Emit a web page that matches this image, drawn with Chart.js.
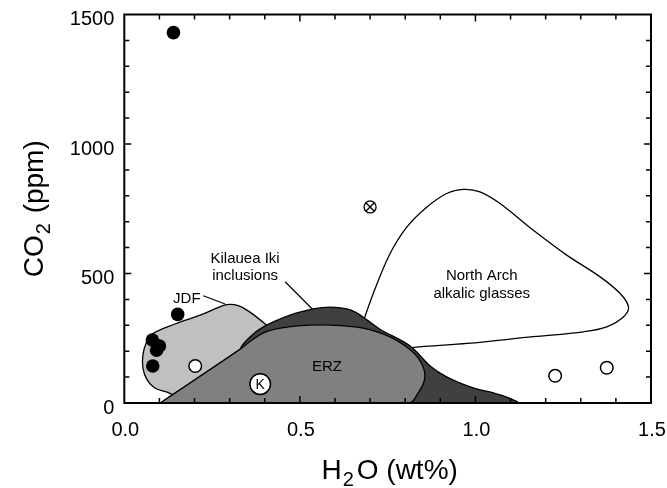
<!DOCTYPE html>
<html>
<head>
<meta charset="utf-8">
<script src="https://cdn.jsdelivr.net/npm/chart.js@4/dist/chart.umd.min.js"></script>
<style>
html,body{margin:0;padding:0;background:#fff;}
#wrap{width:667px;height:488px;position:relative;}
</style>
</head>
<body>
<div id="wrap"><canvas id="c" width="667" height="488"></canvas></div>
<script>
// ---- data (H2O wt%, CO2 ppm) ----
const filledX = [0.14, 0.152, 0.08, 0.092, 0.10, 0.081];
const filledY = [1430, 342, 243, 204, 220, 143];
const openX = [0.202, 1.227, 1.374];
const openY = [143, 105, 136];
const kX = [0.387];
const kY = [73];
const crossX = [0.70];
const crossY = [757];

const jdfX = [0.216, 0.153, 0.122, 0.087, 0.065, 0.053, 0.053, 0.062, 0.079, 0.144, 0.216, 0.270, 0.292, 0.322, 0.358, 0.416, 0.458, 0.330, 0.216];
const jdfY = [50, 27, 42, 58, 89, 135, 185, 231, 266, 305, 339, 370, 380, 377, 351, 289, 243, 147, 50];

const kilX = [0.330, 0.330, 0.358, 0.395, 0.472, 0.538, 0.586, 0.634, 0.663, 0.692, 0.728, 0.814, 0.871, 0.919, 0.994, 1.051, 1.089, 1.119, 0.500, 0.330];
const kilY = [0, 204, 255, 293, 339, 363, 370, 363, 347, 320, 285, 220, 143, 100, 58, 39, 23, 0, 0, 0];

const erzX = [0.102, 0.330, 0.364, 0.401, 0.444, 0.501, 0.586, 0.680, 0.757, 0.808, 0.837, 0.854, 0.854, 0.837, 0.811, 0.102];
const erzY = [0, 208, 243, 274, 289, 299, 301, 289, 255, 212, 174, 127, 85, 39, 0, 0];

const naX = [0.680, 0.709, 0.757, 0.805, 0.862, 0.918, 0.966, 1.013, 1.070, 1.165, 1.260, 1.355, 1.412, 1.436, 1.422, 1.374, 1.308, 1.165, 0.976, 0.814, 0.785, 0.728, 0.680];
const naY = [312, 423, 577, 680, 757, 809, 825, 815, 770, 667, 571, 487, 423, 371, 333, 294, 275, 256, 230, 213, 197, 240, 312];

const xTicks = [0.0, 0.5, 1.0, 1.5];
const yTicks = [0, 500, 1000, 1500];

const labels = [
  {text: 'JDF', x: 0.178, y: 404, align: 'center'},
  {text: 'Kilauea Iki', x: 0.344, y: 555, align: 'center'},
  {text: 'inclusions', x: 0.344, y: 491, align: 'center'},
  {text: 'North Arch', x: 1.018, y: 490, align: 'center'},
  {text: 'alkalic glasses', x: 1.018, y: 423, align: 'center'},
  {text: 'ERZ', x: 0.577, y: 138, align: 'center'}
];
const leaders = [
  [[0.225, 414], [0.287, 382]],
  [[0.458, 468], [0.536, 362]]
];

const zip = (xs, ys) => xs.map((x, i) => ({x, y: ys[i]}));
const FONT = '"Liberation Sans", Arial, Helvetica, sans-serif';

function shape(data, fillColor, order) {
  return {
    type: 'line', data, showLine: true, fill: 'shape',
    backgroundColor: fillColor, borderColor: '#000', borderWidth: 1.3,
    pointRadius: 0, pointHoverRadius: 0, tension: 0.35, order
  };
}

const overlay = {
  id: 'overlay',
  afterDatasetsDraw(chart) {
    const ctx = chart.ctx;
    const xs = chart.scales.x, ys = chart.scales.y;
    const a = chart.chartArea;
    ctx.save();
    // leaders
    ctx.strokeStyle = '#000'; ctx.lineWidth = 1.2;
    leaders.forEach(l => {
      ctx.beginPath();
      ctx.moveTo(xs.getPixelForValue(l[0][0]), ys.getPixelForValue(l[0][1]));
      ctx.lineTo(xs.getPixelForValue(l[1][0]), ys.getPixelForValue(l[1][1]));
      ctx.stroke();
    });
    // labels
    ctx.fillStyle = '#000';
    ctx.font = '15px ' + FONT;
    ctx.textBaseline = 'middle';
    labels.forEach(l => {
      ctx.textAlign = l.align;
      ctx.fillText(l.text, xs.getPixelForValue(l.x), ys.getPixelForValue(l.y));
    });
    // K
    ctx.font = '14px ' + FONT; ctx.textAlign = 'center';
    ctx.fillText('K', xs.getPixelForValue(kX[0]), ys.getPixelForValue(kY[0]) + 1);
    // frame
    ctx.lineWidth = 2;
    ctx.strokeRect(a.left, a.top, a.right - a.left, a.bottom - a.top);
    // inward ticks
    ctx.lineWidth = 1.5;
    ctx.beginPath();
    for (let i = 1; i < 15; i++) {
      const v = i / 10; const px = xs.getPixelForValue(v);
      const L = (i % 5 === 0) ? 7 : 5;
      ctx.moveTo(px, a.bottom); ctx.lineTo(px, a.bottom - L);
      ctx.moveTo(px, a.top); ctx.lineTo(px, a.top + L);
    }
    for (let i = 1; i < 15; i++) {
      const py = ys.getPixelForValue(i * 100);
      const L = (i % 5 === 0) ? 7 : 5;
      ctx.moveTo(a.left, py); ctx.lineTo(a.left + L, py);
      ctx.moveTo(a.right, py); ctx.lineTo(a.right - L, py);
    }
    ctx.stroke();
    // axis titles with subscripts
    const big = 28, small = 20;
    function drawParts(parts, cx, cy) {
      let w = 0;
      parts.forEach(p => { ctx.font = (p.sub ? small : big) + 'px ' + FONT; p.w = ctx.measureText(p.t).width + (p.gap || 0); w += p.w; });
      let x = cx - w / 2;
      ctx.textAlign = 'left'; ctx.textBaseline = 'alphabetic';
      parts.forEach(p => {
        ctx.font = (p.sub ? small : big) + 'px ' + FONT;
        ctx.fillText(p.t, x + (p.pre || 0), cy + (p.sub ? 7 : 0));
        x += p.w;
      });
    }
    drawParts([{t: 'H'}, {t: '2', sub: true, gap: 4, pre: 1}, {t: 'O (wt%)'}], (a.left + a.right) / 2 + 2, 479);
    ctx.save();
    ctx.translate(43, (a.top + a.bottom) / 2);
    ctx.rotate(-Math.PI / 2);
    drawParts([{t: 'CO'}, {t: '2', sub: true, gap: 3, pre: 1}, {t: ' (ppm)'}], 0, 0);
    ctx.restore();
    ctx.restore();
  }
};

new Chart(document.getElementById('c'), {
  type: 'scatter',
  data: {
    datasets: [
      {data: zip(filledX, filledY), pointRadius: 6.8, backgroundColor: '#000', borderColor: '#000', borderWidth: 0, order: 0},
      {data: zip(openX, openY), pointRadius: 6.3, backgroundColor: '#fff', borderColor: '#000', borderWidth: 1.5, order: 0},
      {data: zip(kX, kY), pointRadius: 10.3, backgroundColor: '#fff', borderColor: '#000', borderWidth: 1.5, order: 0},
      {data: zip(crossX, crossY), pointStyle: 'crossRot', pointRadius: 6, borderColor: '#000', borderWidth: 1.3, order: 0},
      {data: zip(crossX, crossY), pointRadius: 6, backgroundColor: '#fff', borderColor: '#000', borderWidth: 1.3, order: 0},
      shape(zip(erzX, erzY), '#808080', 1),
      shape(zip(kilX, kilY), '#404040', 2),
      shape(zip(jdfX, jdfY), '#c0c0c0', 3),
      shape(zip(naX, naY), '#ffffff', 4)
    ]
  },
  options: {
    responsive: false, animation: false, devicePixelRatio: 1,
    layout: {padding: {top: 14.5, right: 16, left: 0, bottom: 0}},
    plugins: {legend: {display: false}, tooltip: {enabled: false}},
    events: [],
    scales: {
      x: {
        type: 'linear', min: 0, max: 1.5,
        afterBuildTicks: s => { s.ticks = xTicks.map(v => ({value: v})); },
        afterFit: s => { s.height = 85; s.paddingLeft = 0; s.paddingRight = 0; },
        grid: {display: false, drawTicks: false},
        border: {display: false},
        ticks: {color: '#000', font: {size: 20, family: FONT}, padding: 15, labelOffset: 1, callback: v => Number(v).toFixed(1)}
      },
      y: {
        type: 'linear', min: 0, max: 1500,
        afterBuildTicks: s => { s.ticks = yTicks.map(v => ({value: v})); },
        afterFit: s => { s.width = 124.3; s.paddingTop = 0; s.paddingBottom = 0; },
        grid: {display: false, drawTicks: false},
        border: {display: false},
        ticks: {color: '#000', font: {size: 20, family: FONT}, padding: 10, labelOffset: 5, callback: v => String(v)}
      }
    }
  },
  plugins: [overlay]
});
</script>
</body>
</html>
